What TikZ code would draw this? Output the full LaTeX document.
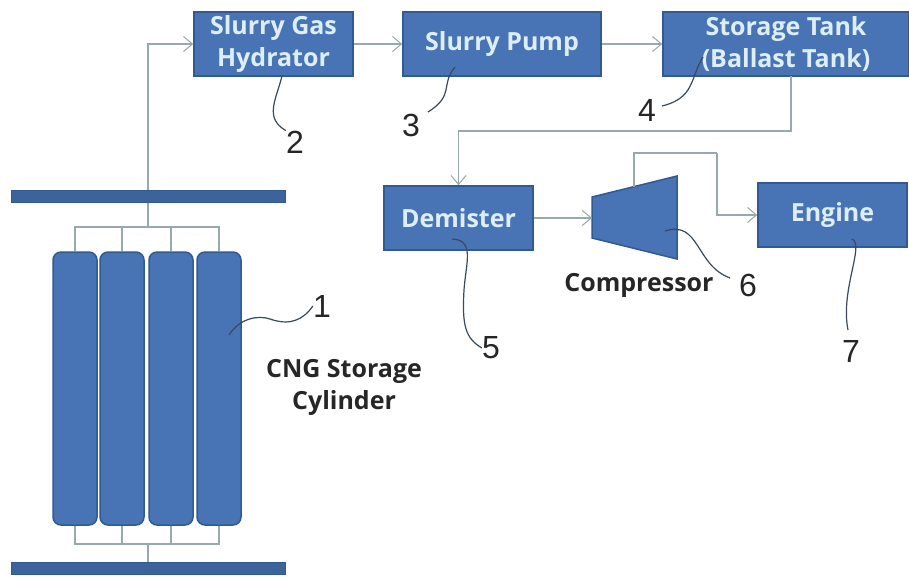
\documentclass[tikz,border=0pt]{standalone}
\usepackage{fontspec}
\setmainfont{Open Sans}
\newfontfamily\numfont{Liberation Sans}
\usetikzlibrary{arrows.meta}
\definecolor{boxblue}{HTML}{4874B6}
\definecolor{boxedge}{HTML}{2F5A92}
\definecolor{pipegray}{HTML}{98A8AC}
\definecolor{leadgray}{HTML}{3A4A58}
\definecolor{boxtext}{HTML}{DDEEF6}
\tikzset{
  unitbox/.style={draw=boxedge,fill=boxblue,line width=1.5pt,inner sep=0pt,text=boxtext,align=center,
    font=\fontsize{25}{32}\selectfont\bfseries},
  cylinder box/.style={draw=boxedge,fill=boxblue,line width=1.5pt,rounded corners=8pt,inner sep=0pt,
    minimum width=44pt,minimum height=273pt},
  barbox/.style={draw=boxedge,fill=boxblue!85!black,line width=1pt,inner sep=0pt,minimum width=274pt,minimum height=12pt},
  pipeline/.style={draw=pipegray,line width=1.2pt},
  flowline/.style={pipeline,-{Straight Barb[length=9pt,width=15pt,line width=1pt]}},
  leadline/.style={draw=leadgray,line width=1.2pt},
  numlabel/.style={font=\numfont\fontsize{32}{32}\selectfont,text=black!85,inner sep=0pt},
  blacklabel/.style={font=\fontsize{25}{32}\selectfont\bfseries,text=black!85,align=center,inner sep=0pt}
}
\begin{document}
\begin{tikzpicture}[x=1pt,y=-1pt]
\useasboundingbox (0,0) rectangle (909,576);
\fill[white] (0,0) rectangle (909,576);
% process units
\node[unitbox,minimum width=159pt,minimum height=64pt] (hydrator) at (273.5,44) {Slurry Gas\\Hydrator};
\node[unitbox,minimum width=198pt,minimum height=64pt] (pump) at (502,44) {Slurry Pump};
\node[unitbox,minimum width=246pt,minimum height=64pt] (tank) at (786,44) {Storage Tank\\(Ballast Tank)};
\node[unitbox,minimum width=149pt,minimum height=64pt] (demister) at (458.5,218) {Demister};
\node[unitbox,minimum width=149pt,minimum height=64pt] (engine) at (832.5,215) {Engine};
% compressor
\draw[draw=boxedge,fill=boxblue,line width=1.5pt] (592,197) -- (677,176) -- (677,259) -- (592,238) -- cycle;
\coordinate (compin) at (592,218);
\coordinate (compout) at (634,187);
\coordinate (compturn) at (717,153);
% cylinders and bars
\node[barbox] (topbar) at (148,196) {};
\node[barbox] (botbar) at (148,568.5) {};
\node[cylinder box] (cyla) at (75,388.5) {};
\node[cylinder box] (cylb) at (122,388.5) {};
\node[cylinder box] (cylc) at (171,388.5) {};
\node[cylinder box] (cyld) at (219,388.5) {};
\coordinate (tophead) at (148,227);
\coordinate (bothead) at (148,544);
% manifold
\draw[pipeline] (topbar.south) -- (tophead);
\draw[pipeline] (cyla.north) |- (tophead);
\draw[pipeline] (cylb.north) |- (tophead);
\draw[pipeline] (cylc.north) |- (tophead);
\draw[pipeline] (cyld.north) |- (tophead);
\draw[pipeline] (botbar.north) -- (bothead);
\draw[pipeline] (cyla.south) |- (bothead);
\draw[pipeline] (cylb.south) |- (bothead);
\draw[pipeline] (cylc.south) |- (bothead);
\draw[pipeline] (cyld.south) |- (bothead);
% flow
\draw[flowline] (topbar.north) |- (hydrator.west);
\draw[flowline] (hydrator.east) -- (pump.west);
\draw[flowline] (pump.east) -- (tank.west);
\coordinate (tankout) at (791,76);
\draw[flowline] (tankout) -- ++(0,55) -| (demister.north);
\draw[flowline] (demister.east) -- (compin);
\draw[pipeline] (compout) |- (compturn);
\draw[flowline] (compturn) |- (engine.west);
% names
\node[blacklabel] (cnglabel) at (344,387) {CNG Storage\\Cylinder};
\node[blacklabel] (complabel) at (639,285) {Compressor};
% numbers
\node[numlabel] (numa) at (322,306) {1};
\node[numlabel] (numb) at (295,142) {2};
\node[numlabel] (numc) at (411,125) {3};
\node[numlabel] (numd) at (647,110) {4};
\node[numlabel] (nume) at (491,348) {5};
\node[numlabel] (numf) at (748,285) {6};
\node[numlabel] (numg) at (851,351) {7};
% leaders
\coordinate (leada) at (229,335);
\coordinate (leadb) at (282,76);
\coordinate (leadc) at (455,67);
\coordinate (leadd) at (703,57);
\coordinate (leade) at (452,239);
\coordinate (leadf) at (665,231);
\coordinate (leadg) at (852,239);
\draw[leadline] (leada) .. controls (240,318) and (258,315) .. (270,319) .. controls (290,326) and (303,320) .. (numa.west);
\draw[leadline] (leadb) .. controls (276,100) and (264,118) .. (numb.north west);
\draw[leadline] (leadc) .. controls (440,85) and (455,95) .. (428,112);
\draw[leadline] (leadd) .. controls (690,78) and (695,98) .. (662,106);
\draw[leadline] (leade) .. controls (475,240) and (466,262) .. (464,290) .. controls (462,325) and (465,338) .. (nume.west);
\draw[leadline] (leadf) .. controls (700,220) and (695,265) .. (730,278);
\draw[leadline] (leadg) .. controls (865,245) and (840,290) .. (848,330);
\end{tikzpicture}
\end{document}
